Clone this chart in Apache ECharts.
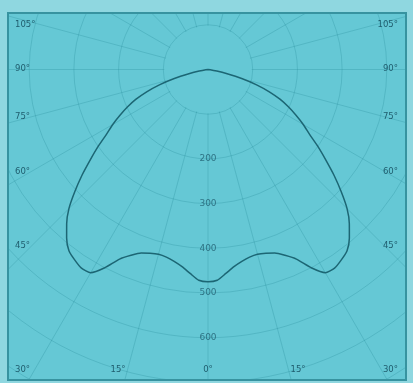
<!DOCTYPE html>
<html><head><meta charset="utf-8">
<script src="https://cdn.jsdelivr.net/npm/echarts@6/dist/echarts.min.js"></script>
<style>html,body{margin:0;padding:0;background:#8fd7e0}#c{width:413px;height:383px}</style>
</head><body><div id="c"></div>
<script>
// Photometric angle (deg from nadir) and luminous intensity (cd)
const angles    = [0, 2.5, 5, 7.5, 10, 12.5, 15, 17.5, 20, 22.5, 25, 27.5, 30, 32.5, 35, 37.5, 40, 42.5, 45, 47.5, 50, 52.5, 55, 57.5, 60, 62.5, 65, 67.5, 70, 72.5, 75, 77.5, 80, 85, 90];
const intensity = [475, 472, 458, 445, 436, 430, 428, 431, 437, 450, 468, 500, 525, 527, 520, 511, 492, 468, 440, 404, 368, 332, 300, 269, 246, 222, 199, 175, 146, 114, 78, 42, 20, 5, 0];
const radiusTicks = [200, 300, 400, 500, 600];
const angleTicks = [105, 90, 75, 60, 45, 30, 15, 0];

const BG = '#65c8d5', OUTER = '#8fd7e0', BORDER = '#3793a0', GRID = 'rgba(35,135,150,0.28)', TXT = '#1f5d6e', CURVE = '#1c6674';
const CX = 208, CY = 69.5, R = 402.3, RMAX = 900;
const FRAME = {x: 8, y: 13, w: 398, h: 367};
// label layout (left side); right side mirrored
const labelLayout = {105:{x:15,y:25}, 90:{x:15,y:69}, 75:{x:15,y:117}, 60:{x:15,y:172}, 45:{x:15,y:246}, 30:{x:15,y:370}, 15:{x:118,y:370,c:1}, 0:{x:208,y:370,c:1}};

const curve = [];
for (let i = angles.length - 1; i >= 0; i--) curve.push([intensity[i], 360 - angles[i]]);
for (let i = 0; i < angles.length; i++) curve.push([intensity[i], angles[i]]);

const graphics = [
  {type:'circle', shape:{cx:CX, cy:CY, r:R*100/RMAX - 1}, style:{fill:BG}, z:1, silent:true},
  {type:'rect', shape:{x:0,y:0,width:413,height:FRAME.y}, style:{fill:OUTER}, z:100},
  {type:'rect', shape:{x:0,y:FRAME.y+FRAME.h,width:413,height:383}, style:{fill:OUTER}, z:100},
  {type:'rect', shape:{x:0,y:0,width:FRAME.x,height:383}, style:{fill:OUTER}, z:100},
  {type:'rect', shape:{x:FRAME.x+FRAME.w,y:0,width:20,height:383}, style:{fill:OUTER}, z:100},
  {type:'rect', shape:{x:FRAME.x,y:FRAME.y,width:FRAME.w,height:FRAME.h}, style:{fill:'none', stroke:BORDER, lineWidth:2}, z:101}
];
angleTicks.forEach(a => {
  const L = labelLayout[a];
  const txt = a + '°';
  const st = {text: txt, fill: TXT, font: '8.5px "DejaVu Sans"', verticalAlign: 'middle'};
  if (L.c) {
    graphics.push({type:'text', x:L.x, y:L.y, style:Object.assign({}, st, {align:'center'}), z:102});
    if (a !== 0) graphics.push({type:'text', x:2*CX - L.x, y:L.y, style:Object.assign({}, st, {align:'center'}), z:102});
  } else {
    graphics.push({type:'text', x:L.x, y:L.y, style:Object.assign({}, st, {align:'left'}), z:102});
    graphics.push({type:'text', x:413 - L.x, y:L.y, style:Object.assign({}, st, {align:'right'}), z:102});
  }
});

const chart = echarts.init(document.getElementById('c'));
chart.setOption({
  backgroundColor: BG,
  animation: false,
  polar: {center: [CX, CY], radius: R},
  angleAxis: {type:'value', min:0, max:360, interval:15, startAngle:270, clockwise:true,
    axisLine:{show:false}, axisTick:{show:false}, axisLabel:{show:false},
    splitLine:{show:true, lineStyle:{color:GRID, width:1}}},
  radiusAxis: {type:'value', min:0, max:RMAX, interval:100,
    axisLine:{show:false}, axisTick:{show:false}, axisLabel:{show:false},
    splitLine:{show:true, lineStyle:{color:GRID, width:1}}},
  series: [
    {type:'line', coordinateSystem:'polar', data:curve, showSymbol:false, smooth:0.2,
      lineStyle:{color:CURVE, width:1.5}, z:5},
    {type:'scatter', coordinateSystem:'polar', data:radiusTicks.map(r => [r, 0]), symbolSize:0,
      label:{show:true, position:'inside', formatter: p => p.value[0], color:TXT, fontSize:9, fontFamily:'DejaVu Sans'}, z:6}
  ],
  graphic: graphics
});
</script></body></html>
